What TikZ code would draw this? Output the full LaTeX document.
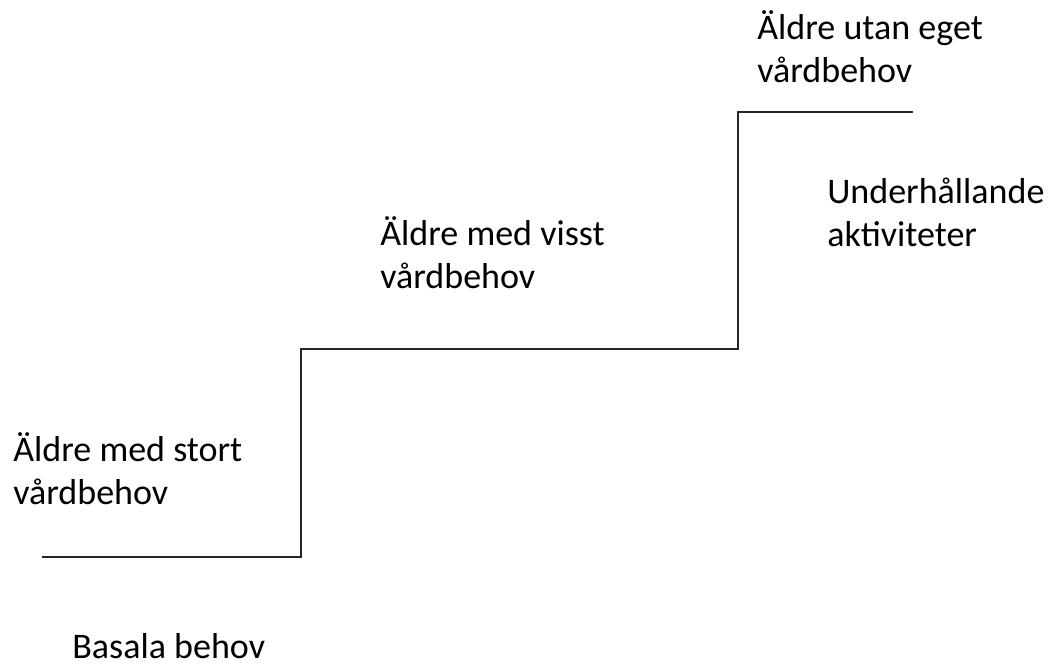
\documentclass[tikz,border=0pt]{standalone}
\usepackage{fontspec}
\setmainfont{Carlito}
\usepackage{tikz}

\tikzset{label/.style={anchor=base west,inner sep=0pt,align=left,
	font=\fontsize{20.5pt}{24pt}\selectfont}}

\begin{document}
\begin{tikzpicture}[x=0.02cm,y=-0.02cm]
	\useasboundingbox (0,0) rectangle (1054,664);
%	the stair
	\draw[line width=1.1pt,black!85] (42,557) -- (301,557) -- (301,349) -- (738,349) -- (738,112) -- (913,112);
	\node[label] (stort) at (13,504) {Äldre med stort\\vårdbehov};
	\node[label] (visst) at (380,288) {Äldre med visst\\vårdbehov};
	\node[label] (utan) at (757,82) {Äldre utan eget\\vårdbehov};
	\node[label] (underh) at (827,246) {Underhållande\\aktiviteter};
	\node[label] (basala) at (72,658) {Basala behov};
\end{tikzpicture}
\end{document}
